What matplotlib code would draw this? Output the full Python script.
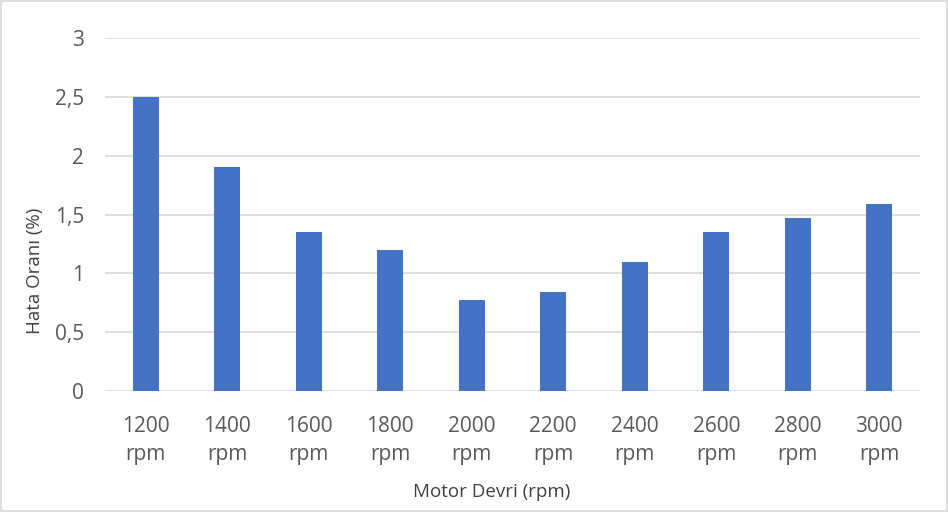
import matplotlib.pyplot as plt
from matplotlib.ticker import FuncFormatter

# Veriler
devir = ['1200\nrpm', '1400\nrpm', '1600\nrpm', '1800\nrpm', '2000\nrpm',
         '2200\nrpm', '2400\nrpm', '2600\nrpm', '2800\nrpm', '3000\nrpm']
hata = [2.5, 1.9, 1.35, 1.2, 0.77, 0.84, 1.1, 1.35, 1.47, 1.59]
yticks = [0, 0.5, 1, 1.5, 2, 2.5, 3]

plt.rcParams['font.family'] = ['Open Sans', 'DejaVu Sans']

fig = plt.figure(figsize=(9.48, 5.12), dpi=100)
ax = fig.add_axes([105/948, 1-391/512, 815/948, (391-38)/512])

x = range(len(devir))
ax.bar(x, hata, width=0.32, color='#4472c4', zorder=3)

ax.set_xlim(-0.5, len(devir)-0.5)
ax.set_ylim(0, 3)
ax.set_yticks(yticks)
ax.yaxis.set_major_formatter(FuncFormatter(lambda v, p: ('%g' % v).replace('.', ',')))
ax.set_xticks(list(x))
ax.set_xticklabels(devir, linespacing=1.45)
ax.grid(axis='y', color='#d9d9d9', linewidth=1.2, zorder=0)
for s in ax.spines.values():
    s.set_visible(False)
ax.tick_params(length=0, labelsize=15, colors='#595959')
ax.tick_params(axis='y', pad=15)
ax.tick_params(axis='x', pad=18)

ax.set_ylabel('Hata Oranı (%)', fontsize=13.5, color='#404040')
ax.set_xlabel('Motor Devri (rpm)', fontsize=13.5, color='#404040')
ax.xaxis.set_label_coords(0.475, -0.26)
ax.yaxis.set_label_coords(-0.075, 0.34)

# dış çerçeve
fig.patches.append(plt.Rectangle((0.001, 0.001), 0.998, 0.997, transform=fig.transFigure,
                                 fill=False, edgecolor='#d9d9d9', linewidth=1.2))

fig.savefig('out.png', dpi=100)
